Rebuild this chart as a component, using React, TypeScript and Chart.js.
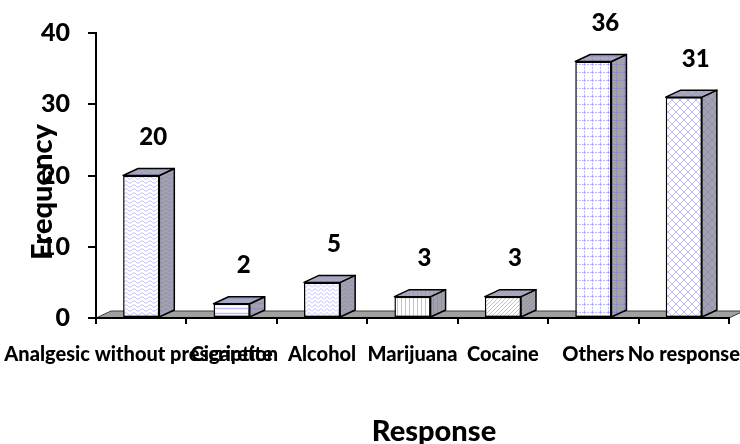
import { useEffect, useRef } from "react";
import { Chart, registerables } from "chart.js";

Chart.register(...registerables);

// Survey responses and their counts
const categories = [
  "Analgesic without prescription",
  "Cigarette",
  "Alcohol",
  "Marijuana",
  "Cocaine",
  "Others",
  "No response",
];
const frequencies = [20, 2, 5, 3, 3, 36, 31];
const yTickStep = 10;
const yMax = 40;
const patternKinds = ["wave", "horizontal", "weave", "vertical", "diagonal", "grid", "diamond"];

const FONT = "Lato, 'Open Sans', sans-serif";
const WEIGHT = "900";
const DEPTH_X = 15;
const DEPTH_Y = 7;

function makePattern(kind: string, bg: string, ink: string): CanvasPattern {
  const sizes: Record<string, [number, number]> = {
    wave: [8, 4],
    horizontal: [4, 5],
    weave: [6, 4],
    vertical: [4, 4],
    diagonal: [4, 4],
    grid: [8, 8],
    diamond: [8, 8],
  };
  const [w, h] = sizes[kind];
  const c = document.createElement("canvas");
  c.width = w;
  c.height = h;
  const g = c.getContext("2d")!;
  g.fillStyle = bg;
  g.fillRect(0, 0, w, h);
  g.strokeStyle = ink;
  g.lineWidth = 1;
  g.beginPath();
  switch (kind) {
    case "wave":
      for (let px = 0; px <= w; px += 0.5) {
        const py = 2 + Math.sin((px / w) * Math.PI * 2) * 1.2;
        if (px === 0) g.moveTo(px, py);
        else g.lineTo(px, py);
      }
      break;
    case "horizontal":
      g.lineWidth = 1.5;
      g.moveTo(0, 3.5);
      g.lineTo(w, 3.5);
      break;
    case "weave":
      g.moveTo(0, 3.5);
      g.lineTo(3, 0.5);
      g.lineTo(6, 3.5);
      break;
    case "vertical":
      g.moveTo(1.5, 0);
      g.lineTo(1.5, h);
      break;
    case "diagonal":
      g.moveTo(0, 4);
      g.lineTo(4, 0);
      g.moveTo(-1, 1);
      g.lineTo(1, -1);
      g.moveTo(3, 5);
      g.lineTo(5, 3);
      break;
    case "grid":
      g.setLineDash([2, 1]);
      g.moveTo(0.5, 0);
      g.lineTo(0.5, h);
      g.moveTo(0, 0.5);
      g.lineTo(w, 0.5);
      break;
    case "diamond":
      g.moveTo(0, 4);
      g.lineTo(4, 0);
      g.lineTo(8, 4);
      g.lineTo(4, 8);
      g.closePath();
      break;
  }
  g.stroke();
  return g.createPattern(c, "repeat")!;
}

export default function App() {
  const canvasRef = useRef<HTMLCanvasElement | null>(null);

  useEffect(() => {
    const canvas = canvasRef.current;
    if (!canvas) return;

    const fronts = patternKinds.map((k) => makePattern(k, "#ffffff", "rgba(125,125,255,0.5)"));
    const sides = patternKinds.map((k) => makePattern(k, "#a2a2ac", "rgba(120,120,210,0.45)"));
    const tops = patternKinds.map((k) => makePattern(k, "#aaaabf", "rgba(130,130,210,0.4)"));

    const bar3d = {
      id: "bar3d",
      beforeDraw(chart: any) {
        const { ctx, chartArea: a } = chart;
        ctx.save();
        ctx.beginPath();
        ctx.moveTo(a.left, a.bottom);
        ctx.lineTo(a.left + DEPTH_X, a.bottom - DEPTH_Y);
        ctx.lineTo(a.right + DEPTH_X, a.bottom - DEPTH_Y);
        ctx.lineTo(a.right, a.bottom);
        ctx.closePath();
        ctx.fillStyle = "#a0a0a0";
        ctx.fill();
        ctx.strokeStyle = "#3c3c3c";
        ctx.lineWidth = 1;
        ctx.stroke();
        ctx.restore();
      },
      afterDatasetsDraw(chart: any) {
        const { ctx } = chart;
        const yScale = chart.scales.y;
        const meta = chart.getDatasetMeta(0);
        ctx.save();
        ctx.lineJoin = "round";
        meta.data.forEach((bar: any, i: number) => {
          const { x, y, base, width } = bar.getProps(["x", "y", "base", "width"], true);
          const l = x - width / 2;
          const r = x + width / 2;
          // right-hand side face
          ctx.beginPath();
          ctx.moveTo(r, y);
          ctx.lineTo(r + DEPTH_X, y - DEPTH_Y);
          ctx.lineTo(r + DEPTH_X, base - DEPTH_Y);
          ctx.lineTo(r, base);
          ctx.closePath();
          ctx.fillStyle = sides[i];
          ctx.fill();
          ctx.strokeStyle = "#000";
          ctx.lineWidth = 1.5;
          ctx.stroke();
          // top face
          ctx.beginPath();
          ctx.moveTo(l, y);
          ctx.lineTo(l + DEPTH_X, y - DEPTH_Y);
          ctx.lineTo(r + DEPTH_X, y - DEPTH_Y);
          ctx.lineTo(r, y);
          ctx.closePath();
          ctx.fillStyle = tops[i];
          ctx.fill();
          ctx.stroke();
        });
        // value labels
        ctx.fillStyle = "#000";
        ctx.font = `${WEIGHT} 24px ${FONT}`;
        ctx.textAlign = "center";
        ctx.textBaseline = "middle";
        meta.data.forEach((bar: any, i: number) => {
          const v = frequencies[i];
          const py = yScale.getPixelForValue(v);
          ctx.fillText(String(v), bar.x + 12, py - 38);
        });
        ctx.restore();
      },
      afterDraw(chart: any) {
        const { ctx } = chart;
        ctx.save();
        ctx.fillStyle = "#000";
        ctx.font = `${WEIGHT} 29px ${FONT}`;
        ctx.textAlign = "center";
        ctx.textBaseline = "alphabetic";
        ctx.fillText("Response", 434, 441);
        ctx.translate(52, 192);
        ctx.rotate(-Math.PI / 2);
        ctx.fillText("Frequency", 0, 0);
        ctx.restore();
      },
    };

    const chart = new Chart(canvas, {
      type: "bar",
      data: {
        labels: categories,
        datasets: [
          {
            data: frequencies,
            backgroundColor: fronts,
            borderColor: "#000",
            borderWidth: 1.5,
            borderSkipped: false,
            barPercentage: 0.4,
            categoryPercentage: 1,
          },
        ],
      },
      options: {
        animation: false,
        responsive: false,
        maintainAspectRatio: false,
        layout: { padding: { left: 0, right: 11, top: 33, bottom: 0 } },
        plugins: {
          legend: { display: false },
          tooltip: { enabled: false },
          title: { display: false },
        },
        scales: {
          x: {
            offset: true,
            grid: {
              display: true,
              offset: true,
              drawOnChartArea: false,
              drawTicks: true,
              tickLength: 6,
              color: "#000",
              lineWidth: 2,
            },
            border: { display: true, color: "#000", width: 2 },
            ticks: {
              autoSkip: false,
              maxRotation: 0,
              minRotation: 0,
              padding: 19,
              color: "#000",
              font: { family: FONT, size: 20, weight: WEIGHT },
            },
            afterFit: (s: any) => {
              s.height = 126;
              s.paddingLeft = 0;
              s.paddingRight = 0;
            },
          },
          y: {
            min: 0,
            max: yMax,
            grid: {
              display: true,
              drawOnChartArea: false,
              drawTicks: true,
              tickLength: 8,
              color: "#000",
              lineWidth: 2,
            },
            border: { display: true, color: "#000", width: 2 },
            ticks: {
              stepSize: yTickStep,
              padding: 18,
              color: "#000",
              font: { family: FONT, size: 25, weight: WEIGHT },
            },
            afterFit: (s: any) => {
              s.width = 96;
              s.paddingTop = 0;
              s.paddingBottom = 0;
            },
          },
        },
      },
      plugins: [bar3d],
    } as any);

    return () => {
      chart.destroy();
    };
  }, []);

  return (
    <div style={{ position: "fixed", left: 0, top: 0, width: 740, height: 444, background: "#fff" }}>
      <canvas ref={canvasRef} width={740} height={444} style={{ display: "block" }} />
    </div>
  );
}
